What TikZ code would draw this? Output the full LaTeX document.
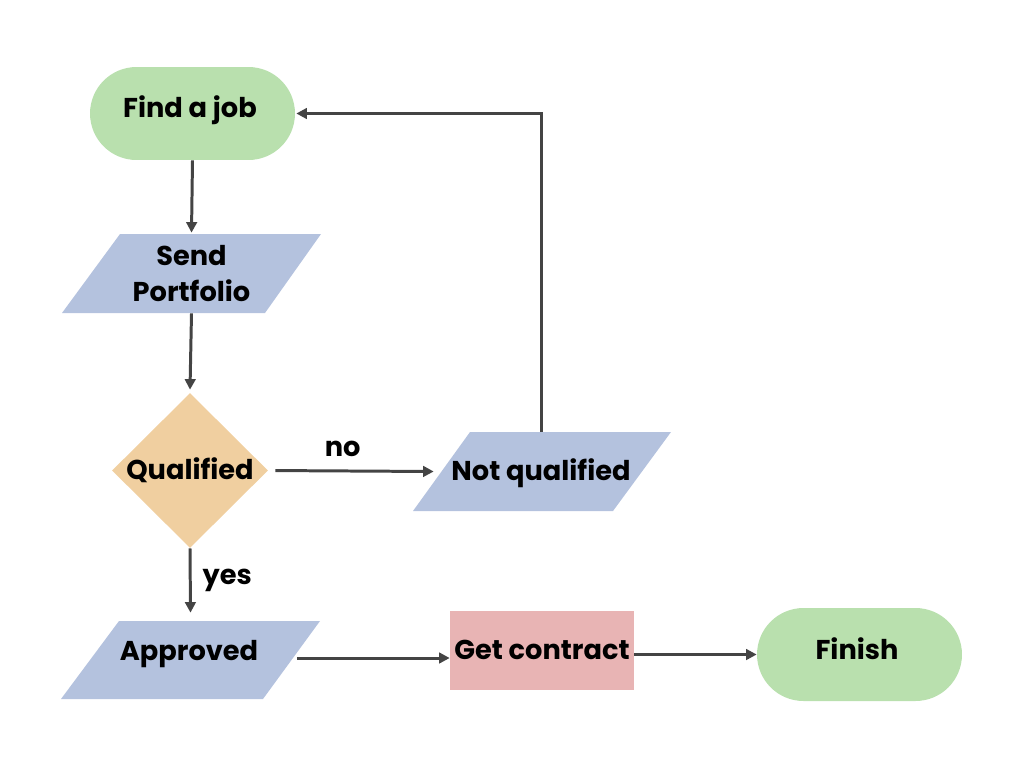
\documentclass[tikz,border=0pt]{standalone}
\usepackage{fontspec}
\setmainfont{Poppins}
\usetikzlibrary{arrows.meta,shapes.misc,shapes.geometric}
\definecolor{cgreen}{HTML}{B9E0AE}
\definecolor{cblue}{HTML}{B4C2DE}
\definecolor{corange}{HTML}{F0CFA0}
\definecolor{cpink}{HTML}{E8B4B4}
\definecolor{cline}{HTML}{444444}
\begin{document}
\begin{tikzpicture}[x=0.02cm,y=-0.02cm,
  txt/.style={font=\bfseries\fontsize{15.5}{19}\selectfont, text=black, align=center, inner sep=0pt},
  pill/.style={rounded rectangle, inner sep=0pt, fill=cgreen, minimum width=4.1cm, minimum height=1.86cm},
  ghost/.style={txt, rectangle},
  conn/.style={draw=cline, line width=1.7pt, -{Triangle[length=6pt,width=6pt]}},
  lbl/.style={font=\bfseries\fontsize{15.5}{19}\selectfont, text=black, inner sep=0pt}]
\useasboundingbox (0,0) rectangle (1024,768);
% shapes
\fill[cblue] (62,313) -- (120,234) -- (321,234) -- (265,313) -- cycle;
\fill[cblue] (413,511) -- (470,432) -- (671,432) -- (613,511) -- cycle;
\fill[cblue] (61,699) -- (119,621) -- (320,621) -- (263,699) -- cycle;
% nodes
\node[pill] (fj) at (192.5,113.5) {};
\node[txt] (fjt) at (190,110) {Find a job};
\node[ghost, minimum width=4.3cm, minimum height=1.58cm] (sp) at (191.5,273.5) {Send\\[1pt]Portfolio};
\node[txt, diamond, fill=corange, minimum width=3.12cm, minimum height=3.1cm] (q) at (190,470.5) {Qualified};
\node[ghost, minimum width=4.28cm, minimum height=1.58cm] (nq) at (541,471.5) {};
\node[txt] (nqt) at (541,473) {Not qualified};
\node[ghost, minimum width=4.26cm, minimum height=1.56cm] (ap) at (190.5,660) {};
\node[txt] (apt) at (189,654) {Approved};
\node[txt, fill=cpink, minimum width=3.68cm, minimum height=1.58cm] (gc) at (542,650.5) {};
\node[txt] (gct) at (542,650) {Get contract};
\node[pill] (fin) at (859.5,654.5) {};
\node[txt] (fint) at (857,649) {Finish};
% connectors
\draw[conn] (fj.south) -- ([yshift=0.02cm]sp.north);
\draw[conn] (sp.south) -- ([yshift=0.06cm]q.north);
\draw[conn, shorten <=0.14cm] (q.east) -- node[lbl, pos=0.45, above=0.26cm] (no) {no} (nq.west);
\draw[conn] (q.south) -- node[lbl, right=0.22cm] (yes) {yes} ([yshift=0.16cm]ap.north);
\draw[conn] (nq.north) |- ([xshift=0.02cm]fj.east);
\draw[conn] ([yshift=0.04cm]ap.east) -- ([yshift=0.04cm]ap.east -| gc.west);
\draw[conn] (gc.east |- fin.west) -- (fin.west);
\end{tikzpicture}
\end{document}
